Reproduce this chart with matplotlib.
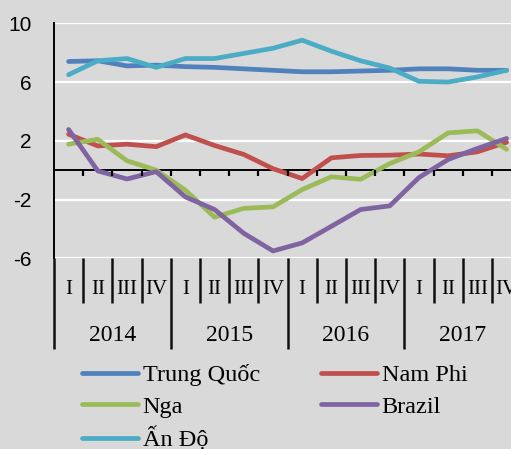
import matplotlib
matplotlib.use('Agg')
import matplotlib.pyplot as plt

plt.rcParams['axes.unicode_minus'] = False

# tăng trưởng GDP theo quý (%)
quarters = ['I', 'II', 'III', 'IV'] * 4
years = ['2014', '2015', '2016', '2017']

trung_quoc = [7.4, 7.45, 7.1, 7.15, 7.05, 7.0, 6.9, 6.8, 6.7, 6.7, 6.75, 6.8, 6.9, 6.9, 6.8, 6.8]
nam_phi = [2.45, 1.65, 1.77, 1.6, 2.4, 1.68, 1.07, 0.1, -0.57, 0.84, 1.0, 1.02, 1.1, 0.98, 1.25, 1.9]
nga = [1.77, 2.1, 0.64, 0.0, -1.36, -3.2, -2.6, -2.5, -1.32, -0.45, -0.62, 0.45, 1.25, 2.54, 2.68, 1.42]
brazil = [2.77, -0.05, -0.6, -0.1, -1.82, -2.68, -4.3, -5.5, -4.95, -3.82, -2.68, -2.43, -0.5, 0.73, 1.48, 2.16]
an_do = [6.5, 7.45, 7.6, 7.0, 7.6, 7.6, 7.95, 8.3, 8.85, 8.1, 7.45, 6.95, 6.05, 6.0, 6.35, 6.8]

bg = '#D9D9D9'
serif = ['Liberation Serif', 'DejaVu Serif']

fig = plt.figure(figsize=(5.11, 4.49), dpi=100, facecolor=bg)
ax = fig.add_axes([54/511, 1-258.3/449, 467.2/511, 235/449], facecolor=bg)

x = list(range(16))
l1, = ax.plot(x, trung_quoc, color='#4F81BD', lw=3.4, label='Trung Quốc', solid_capstyle='round')
l2, = ax.plot(x, nam_phi, color='#C0504D', lw=3.4, label='Nam Phi', solid_capstyle='round')
l3, = ax.plot(x, nga, color='#9BBB59', lw=3.4, label='Nga', solid_capstyle='round')
l4, = ax.plot(x, brazil, color='#8064A2', lw=3.4, label='Brazil', solid_capstyle='round')
l5, = ax.plot(x, an_do, color='#4BACC6', lw=3.4, label='Ấn Độ', solid_capstyle='round')

ax.set_xlim(-0.5, 15.5)
ax.set_ylim(-6, 10)
ax.set_yticks([-6, -2, 2, 6, 10])
ax.grid(True, axis='y', color='white', lw=1.6)
ax.set_axisbelow(True)
ax.tick_params(axis='y', length=0, pad=16, labelsize=15)
for t in ax.get_yticklabels():
    t.set_family('Liberation Sans')
ax.set_xticks([])
for s in ['top', 'right', 'bottom']:
    ax.spines[s].set_visible(False)
ax.spines['left'].set_color('black')
ax.spines['left'].set_linewidth(1.4)

# trục ngang tại 0 và vạch chia
px = 235 / 16.0
bounds = [k - 0.5 for k in range(17)]
ax.axhline(0, color='black', lw=1.4, zorder=1.5)
ax.vlines(bounds[1:], -6/px, 0, colors='black', lw=1.6, clip_on=False, zorder=2.5)

# nhãn nhiều cấp bên dưới (toạ độ dữ liệu, dưới -6)
q_bounds = [b for k, b in enumerate(bounds) if k % 4 != 0]
y_bounds = [b for k, b in enumerate(bounds) if k % 4 == 0]
ax.vlines(q_bounds, -6 - 45/px, -5.95, colors='#111111', lw=1.8, clip_on=False, zorder=4)
ax.vlines(y_bounds, -6 - 91/px, -5.95, colors='#111111', lw=1.8, clip_on=False, zorder=4)
for i, q in enumerate(quarters):
    ax.text(i, -6 - 31/px, q, ha='center', va='center', fontsize=15, family=serif, clip_on=False)
for j, yr in enumerate(years):
    ax.text(4*j + 1.5, -6 - 77/px, yr, ha='center', va='center', fontsize=17, family=serif, clip_on=False)

fig.legend([l1, l3, l5, l2, l4], ['Trung Quốc', 'Nga', 'Ấn Độ', 'Nam Phi', 'Brazil'],
           ncol=2, frameon=False, loc='upper left', bbox_to_anchor=(82/511, 1-364/449),
           prop={'family': serif, 'size': 17.5}, handlelength=2.3, handletextpad=0.2,
           columnspacing=2.5, labelspacing=0.4, borderpad=0, borderaxespad=0)

fig.savefig('out.png', dpi=100, facecolor=bg)
